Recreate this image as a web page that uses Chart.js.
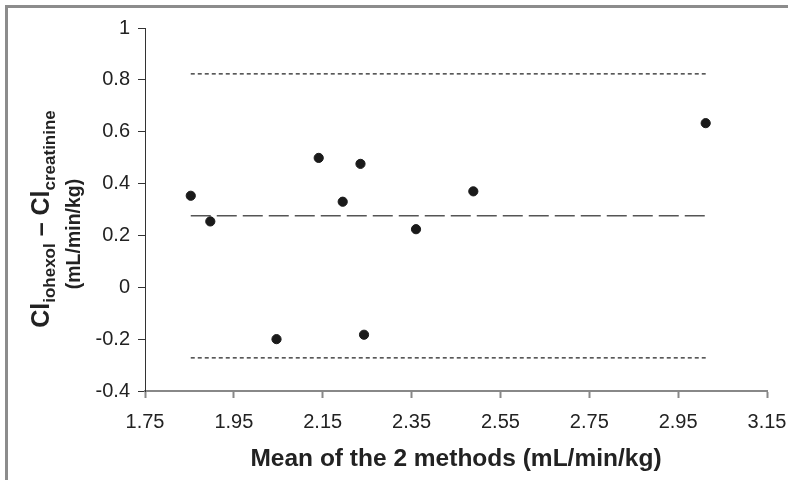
<!DOCTYPE html>
<html lang="en">
<head>
    <meta charset="UTF-8">
    <title>Bland-Altman plot</title>
    <script src="https://cdn.jsdelivr.net/npm/chart.js"></script>
    <style>
        body {
            margin: 0;
            background: white;
            font-family: "Liberation Sans", Arial, sans-serif;
        }
        #wrap {
            position: relative;
            width: 788px;
            height: 480px;
            overflow: hidden;
        }
        /* grey frame, only top and left edges are visible */
        #frame {
            position: absolute;
            left: 5px;
            top: 5px;
            width: 800px;
            height: 500px;
            border-left: 3px solid #8c8c8c;
            border-top: 3px solid #8c8c8c;
        }
        #chart {
            position: absolute;
            left: 0;
            top: 0;
        }
    </style>
</head>
<body>
<div id="wrap">
    <div id="frame"></div>
    <canvas id="chart" width="788" height="480"></canvas>
</div>

<script>
// mean of the two methods (x) and difference iohexol - creatinine (y)
const meanX = [1.853, 1.897, 2.046, 2.141, 2.195, 2.235, 2.243, 2.360, 2.489, 3.012];
const diffY = [0.353, 0.254, -0.200, 0.499, 0.330, 0.476, -0.183, 0.224, 0.370, 0.633];

// bias and limits of agreement
const biasMean = 0.276;
const upperLimit = 0.823;
const lowerLimit = -0.272;

const xTicks = [1.75, 1.95, 2.15, 2.35, 2.55, 2.75, 2.95, 3.15];
const yTicks = [-0.4, -0.2, 0, 0.2, 0.4, 0.6, 0.8, 1];

const FONT = '"Liberation Sans", Arial, sans-serif';

const xFrom = Math.min(...meanX);
const xTo = Math.max(...meanX);

const points = meanX.map((x, i) => ({ x: x, y: diffY[i] }));
const hLine = (v) => [{ x: xFrom, y: v }, { x: xTo, y: v }];

// y title has subscripts, so it is drawn by hand
const yTitlePlugin = {
    id: 'yTitle',
    afterDraw(chart) {
        const ctx = chart.ctx;
        ctx.save();
        ctx.fillStyle = '#222';
        ctx.textBaseline = 'alphabetic';

        const parts = [
            { t: 'Cl', size: 25, sub: false },
            { t: 'iohexol', size: 17, sub: true },
            { t: ' \u2013 ', size: 25, sub: false },
            { t: 'Cl', size: 25, sub: false },
            { t: 'creatinine', size: 17, sub: true }
        ];
        let total = 0;
        parts.forEach(p => {
            ctx.font = 'bold ' + p.size + 'px ' + FONT;
            p.w = ctx.measureText(p.t).width;
            total += p.w;
        });

        // line 1
        ctx.save();
        ctx.translate(49, 219);
        ctx.rotate(-Math.PI / 2);
        let x = -total / 2;
        parts.forEach(p => {
            ctx.font = 'bold ' + p.size + 'px ' + FONT;
            ctx.fillText(p.t, x, p.sub ? 6 : 0);
            x += p.w;
        });
        ctx.restore();

        // line 2
        ctx.save();
        ctx.translate(80, 234);
        ctx.rotate(-Math.PI / 2);
        ctx.font = 'bold 19.5px ' + FONT;
        ctx.textAlign = 'center';
        ctx.fillText('(mL/min/kg)', 0, 0);
        ctx.restore();

        ctx.restore();
    }
};

new Chart(document.getElementById('chart').getContext('2d'), {
    type: 'scatter',
    data: {
        datasets: [
            {
                label: 'differences',
                data: points,
                backgroundColor: '#1a1a1a',
                borderColor: '#1a1a1a',
                pointRadius: 4.6,
                pointHoverRadius: 4.6,
                order: 0
            },
            {
                label: 'mean',
                type: 'line',
                data: hLine(biasMean),
                borderColor: '#555',
                borderWidth: 1.6,
                borderDash: [20, 6],
                pointRadius: 0,
                fill: false,
                order: 1
            },
            {
                label: 'upper',
                type: 'line',
                data: hLine(upperLimit),
                borderColor: '#222',
                borderWidth: 1.2,
                borderDash: [4, 3],
                pointRadius: 0,
                fill: false,
                order: 1
            },
            {
                label: 'lower',
                type: 'line',
                data: hLine(lowerLimit),
                borderColor: '#222',
                borderWidth: 1.2,
                borderDash: [4, 3],
                pointRadius: 0,
                fill: false,
                order: 1
            }
        ]
    },
    options: {
        responsive: false,
        animation: false,
        layout: { padding: { top: 28, right: 21, bottom: 0, left: 0 } },
        plugins: {
            legend: { display: false },
            tooltip: { enabled: false }
        },
        scales: {
            x: {
                type: 'linear',
                min: 1.75,
                max: 3.15,
                afterBuildTicks: (s) => { s.ticks = xTicks.map(v => ({ value: v })); },
                afterFit: (s) => {
                    s.height = 89;
                    s.paddingLeft = 0;
                    s.paddingRight = 0;
                },
                grid: { drawOnChartArea: false, tickLength: 7, tickColor: '#888', tickWidth: 2 },
                border: { color: '#888', width: 2 },
                ticks: {
                    color: '#222',
                    padding: 12,
                    maxRotation: 0,
                    font: { size: 20, family: FONT },
                    callback: (v) => v.toFixed(2)
                },
                title: {
                    display: true,
                    text: 'Mean of the 2 methods (mL/min/kg)',
                    color: '#222',
                    font: { size: 24.5, weight: 'bold', family: FONT },
                    padding: { top: 6, bottom: 6 }
                }
            },
            y: {
                min: -0.4,
                max: 1,
                afterBuildTicks: (s) => { s.ticks = yTicks.map(v => ({ value: v })); },
                afterFit: (s) => {
                    s.width = 145;
                    s.paddingTop = 0;
                    s.paddingBottom = 0;
                },
                grid: { drawOnChartArea: false, tickLength: 7, tickColor: '#333', tickWidth: 1 },
                border: { color: '#333', width: 1 },
                ticks: {
                    color: '#222',
                    padding: 8,
                    font: { size: 20, family: FONT },
                    callback: (v) => String(Math.round(v * 10) / 10)
                }
            }
        }
    },
    plugins: [yTitlePlugin]
});
</script>
</body>
</html>
